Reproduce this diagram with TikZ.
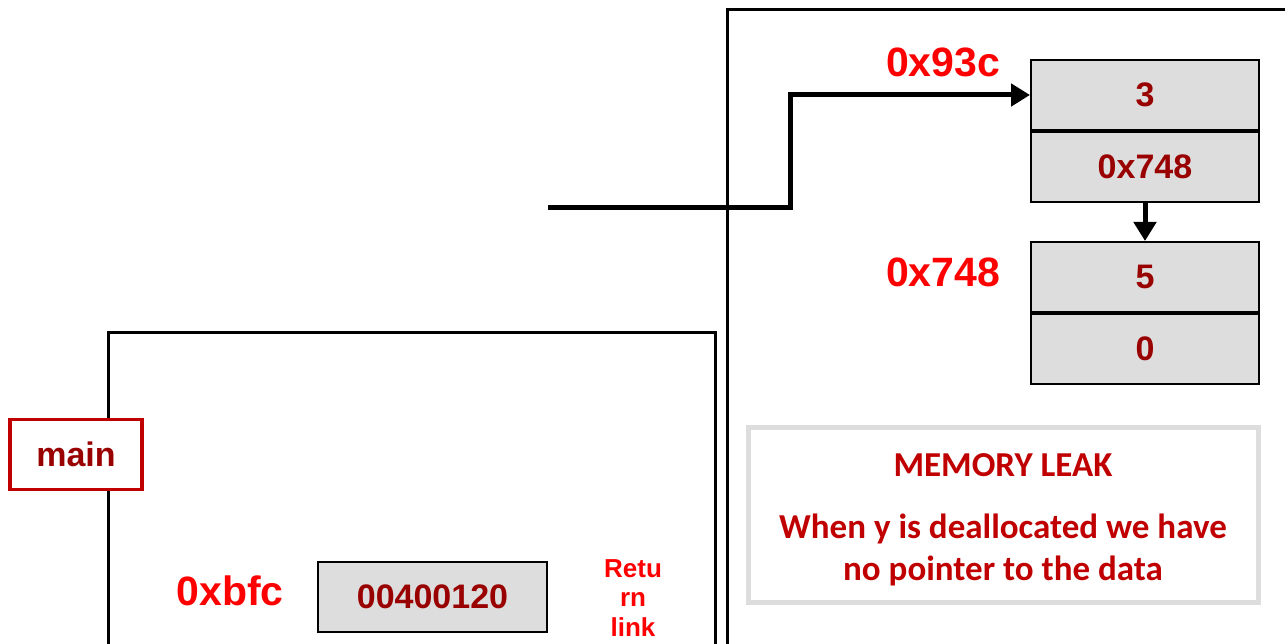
\documentclass[tikz,border=0pt]{standalone}
\usepackage{fontspec}
\setmainfont{Liberation Sans}
\newfontfamily\calibri{Carlito}
\usepackage{xcolor}
\usetikzlibrary{arrows.meta,positioning}

\definecolor{addrred}{HTML}{FF0000}
\definecolor{valred}{HTML}{990000}
\definecolor{boxred}{HTML}{C00000}
\definecolor{cellgray}{HTML}{DDDDDD}

\begin{document}
\begin{tikzpicture}[x=1pt,y=-1pt]
  \tikzset{frame/.style = {line width=3pt}}
  \tikzset{cell/.style = {draw, line width=2pt, fill=cellgray, minimum width=228pt, minimum height=70pt, inner sep=0pt, font=\fontsize{34}{36}\bfseries, text=valred}}
  \tikzset{addr/.style = {font=\fontsize{41}{44}\bfseries, text=addrred}}
  \tikzset{ptr/.style = {line width=5pt, -{Triangle[length=19pt,width=22pt]}}}

  \useasboundingbox (0,0) rectangle (1285,644);

  % stack frame of main and the heap
  \draw[frame] (108,660) -- (108,332) -- (715,332) -- (715,660);
  \draw[frame] (727,660) -- (727,10) -- (1300,10);

  % heap blocks
  \node[cell] (heapval) at (1145,95) {3};
  \node[cell, below=0pt of heapval] (heapnext) {0x748};
  \node[cell] (nodeval) at (1145,277) {5};
  \node[cell, below=0pt of nodeval] (nodenext) {0};

  % addresses
  \node[addr] (a93c) at (943,62) {0x93c};
  \node[addr] (a748) at (943,272) {0x748};
  \node[addr] (abfc) at (230,591) {0xbfc};

  % main frame contents
  \node[draw=boxred, line width=3.5pt, fill=white, minimum width=132pt, minimum height=70pt, font=\fontsize{34}{36}\bfseries, text=valred] (main) at (76,454.5) {main};
  \node[cell, minimum width=229pt] (ret) at (432.5,597) {00400120};
  \node[font=\fontsize{26}{29.5}\bfseries, text=addrred, align=center] (retlbl) at (633,598) {Retu\\rn\\link};

  % pointers
  \coordinate (ystart) at (548,208);
  \draw[ptr] (ystart) -- ++(242,0) |- (heapval.west);
  \draw[ptr] (heapnext.south) -- (nodeval.north);

  % note
  \node[draw=cellgray, line width=5pt, fill=white, minimum width=510pt, minimum height=175pt, align=center, text=boxred, font=\calibri\fontsize{35}{42}\bfseries] (leak) at (1003,514.5) {\rule{0pt}{34pt}MEMORY LEAK\\[20pt]When y is deallocated we have\\no pointer to the data};
\end{tikzpicture}
\end{document}
